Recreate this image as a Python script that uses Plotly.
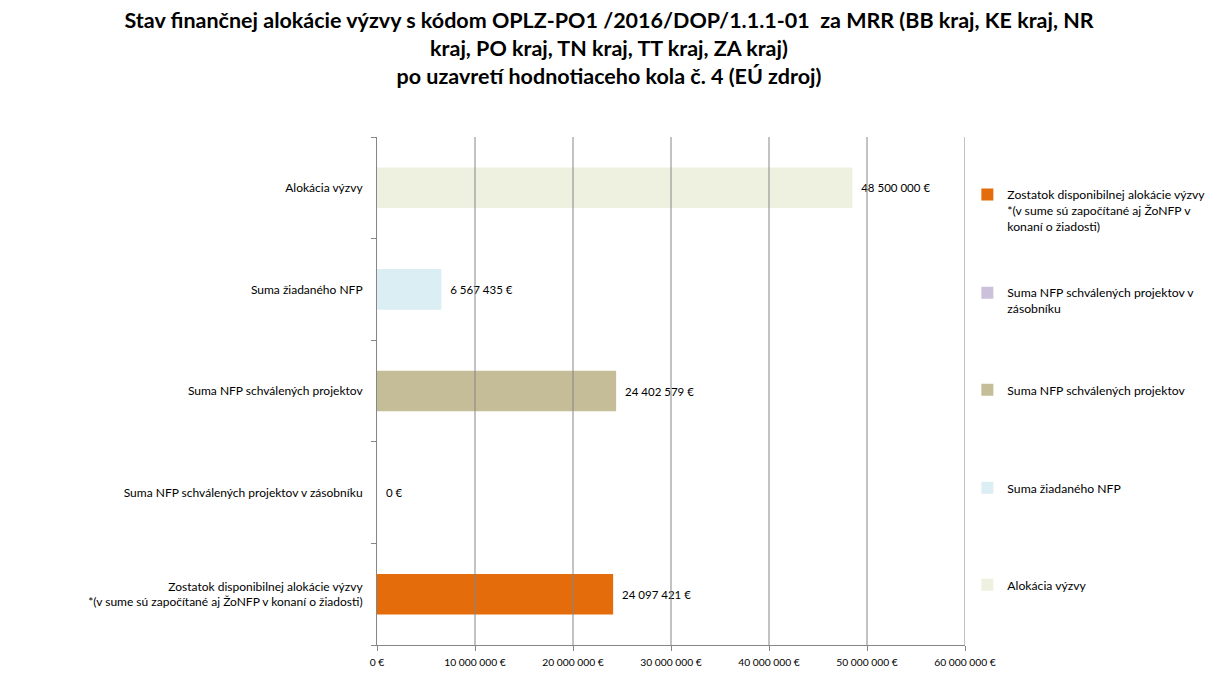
import plotly.graph_objects as go

categories = [
    "Zostatok disponibilnej alokácie výzvy<br>*(v sume sú započítané aj ŽoNFP v konaní o žiadosti)",
    "Suma NFP schválených projektov v zásobníku",
    "Suma NFP schválených projektov",
    "Suma žiadaného NFP",
    "Alokácia výzvy",
]
legend_names = [
    "Zostatok disponibilnej alokácie výzvy<br>*(v sume sú započítané aj ŽoNFP v<br>konaní o žiadosti)",
    "Suma NFP schválených projektov v<br>zásobníku",
    "Suma NFP schválených projektov",
    "Suma žiadaného NFP",
    "Alokácia výzvy",
]
values = [24097421, 0, 24402579, 6567435, 48500000]
colors = ["#E46C0A", "#CCC1DA", "#C4BD97", "#DBEEF4", "#EEF0E0"]
tick_vals = [0, 10000000, 20000000, 30000000, 40000000, 50000000, 60000000]
tick_text = ["0 €", "10 000 000 €", "20 000 000 €", "30 000 000 €", "40 000 000 €", "50 000 000 €", "60 000 000 €"]


def fmt(v):
    return "\u00a0\u00a0" + f"{v:,}".replace(",", " ") + " €"


FONT = "Lato"
W, H = 1202, 668  # page body has an 8px margin
fig = go.Figure()
legend_y = [0.915, 0.722, 0.531, 0.338, 0.147]
for i, (cat, name, val, col) in enumerate(zip(categories, legend_names, values, colors)):
    lid = "legend" if i == 0 else f"legend{i+1}"
    fig.add_trace(go.Bar(
        y=[cat], x=[val], orientation="h", name=name,
        marker=dict(color=col, line=dict(width=0)),
        width=0.4,
        text=[fmt(val)], textposition="outside", cliponaxis=False,
        textfont=dict(size=11.5, color="#000000", family=FONT),
        legend=lid, showlegend=True,
    ))
    fig.update_layout({lid: dict(
        x=1.004, xanchor="left", y=legend_y[i], yanchor="top",
        font=dict(size=12.2, color="#000000", family=FONT),
        bgcolor="rgba(0,0,0,0)", itemwidth=30, valign="top",
        itemclick=False, itemdoubleclick=False,
    )})

shapes = []
for tv in tick_vals[1:]:
    shapes.append(dict(type="line", xref="x", yref="paper", x0=tv, x1=tv, y0=0, y1=1,
                       line=dict(color="#868686", width=1), layer="above"))

fig.update_layout(
    width=W, height=H,
    paper_bgcolor="white", plot_bgcolor="white",
    margin=dict(l=369, r=245, t=129, b=31, autoexpand=False),
    barmode="overlay",
    title=dict(
        text="Stav finančnej alokácie výzvy s kódom OPLZ-PO1 /2016/DOP/1.1.1-01  za MRR (BB kraj, KE kraj, NR<br>kraj, PO kraj, TN kraj, TT kraj, ZA kraj)<br>po uzavretí hodnotiaceho kola č. 4 (EÚ zdroj)",
        x=0.5, xref="container", xanchor="center",
        y=1 - 20 / H, yref="container", yanchor="middle",
        font=dict(size=21.5, color="#000000", family=FONT, weight="bold"),
    ),
    xaxis=dict(
        range=[0, 60000000], tickvals=tick_vals, ticktext=tick_text,
        showgrid=False, zeroline=False, automargin=False,
        showline=True, linecolor="#868686", linewidth=1,
        ticks="outside", ticklen=5, tickcolor="#868686",
        tickfont=dict(size=10.3, color="#000000", family=FONT),
        ticklabelstandoff=3,
    ),
    yaxis=dict(
        categoryorder="array", categoryarray=categories,
        showline=True, linecolor="#868686", linewidth=1, automargin=False,
        ticks="outside", ticklen=5, tickcolor="#868686", tickson="boundaries",
        showgrid=False,
        tickfont=dict(size=12, color="#000000", family=FONT),
        ticklabelstandoff=11,
    ),
    shapes=shapes,
)

fig.write_html("out.html")
